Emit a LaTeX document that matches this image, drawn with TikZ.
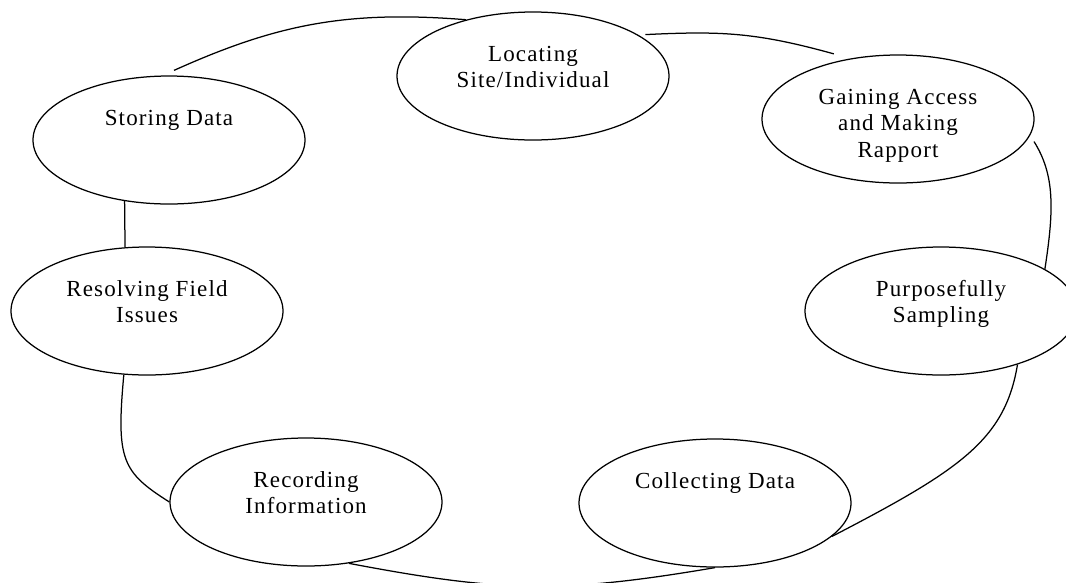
\documentclass[tikz,border=0pt]{standalone}
\usepackage{fontspec}
\setmainfont[LetterSpace=5]{Liberation Serif}
\usetikzlibrary{shapes.geometric}
\newcommand{\stagetext}[1]{\parbox[c][67pt][t]{180pt}{\centering\strut #1}}
\tikzset{stage/.style={ellipse, draw, minimum width=272pt, minimum height=128pt, inner sep=0pt, font=\fontsize{23}{26.5}\selectfont}}

\begin{document}
\begin{tikzpicture}[x=1pt, y=-1pt, line width=1.25pt]
\clip (0,0) rectangle (1066,582);
\node[stage] (q0) at (533,76) {\stagetext{Locating\\Site/Individual}};
\node[stage] (q1) at (898,119) {\stagetext{Gaining Access\\and Making\\Rapport}};
\node[stage] (q2) at (941,311) {\stagetext{Purposefully\\Sampling}};
\node[stage] (q3) at (715,503) {\stagetext{Collecting Data}};
\node[stage] (q4) at (306,502) {\stagetext{Recording\\Information}};
\node[stage] (q5) at (147,311) {\stagetext{Resolving Field\\Issues}};
\node[stage] (q6) at (169,140) {\stagetext{Storing Data}};
\draw ([shift={(5pt,5pt)}]q6.north) .. controls (275,25) and (345,10) .. (q0.140);
\draw ([shift={(4pt,2pt)}]q0.20) .. controls (720,31) and (755,32) .. ([shift={(-9pt,6pt)}]q1.133);
\draw ([xshift=8pt]q1.-10) .. controls (1055,175) and (1054,210) .. (q2.22);
\draw (q2.-35) .. controls (1005,440) and (960,470) .. (q3.-16);
\draw (q3.south) .. controls (560,594) and (500,592) .. (q4.-55);
\draw (q5.-110) .. controls (116,460) and (122,472) .. (q4.west);
\draw (q6.-126) -- (q5.109);
\end{tikzpicture}
\end{document}
